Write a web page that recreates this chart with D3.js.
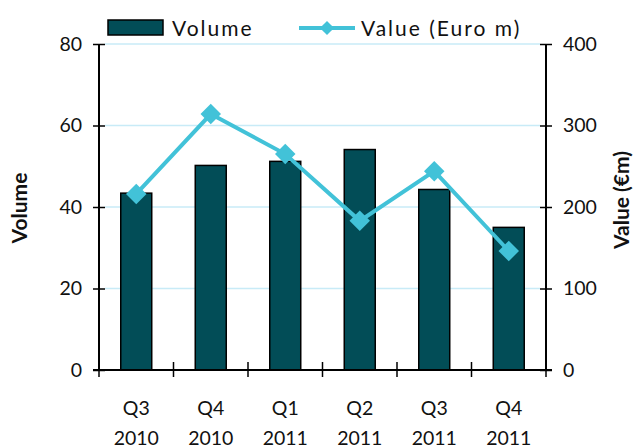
<!DOCTYPE html>
<html>
<head>
<meta charset="utf-8">
<script src="https://cdn.jsdelivr.net/npm/d3@7"></script>
<style>
  body { margin: 0; background: #fff; }
  svg { display: block; font-family: Lato, "Open Sans", sans-serif; }
</style>
</head>
<body>
<div id="chart"></div>
<script>
// data
let quarters = ["Q3", "Q4", "Q1", "Q2", "Q3", "Q4"]
let years = ["2010", "2010", "2011", "2011", "2011", "2011"]
let volume = [43.4, 50.2, 51.2, 54.1, 44.3, 35.0]
let valueEur = [216, 314, 265, 183, 244, 146]
let volumeTicks = [0, 20, 40, 60, 80]
let valueTicks = [0, 100, 200, 300, 400]

let W = 634, H = 448
let plotLeft = 99, plotRight = 546, plotTop = 44, plotBottom = 370
let barColor = "#024d57"
let lineColor = "#42c2d8"
let gridColor = "#c8ebf7"

let data = quarters.map((q, i) => ({key: i, q, year: years[i], vol: volume[i], val: valueEur[i]}))

let svg = d3.select("#chart").append("svg")
  .attr("width", W)
  .attr("height", H)

// SCALES
let xScale = d3.scaleBand()
  .domain(data.map(d => d.key))
  .range([plotLeft, plotRight])
  .paddingInner(0.584)
  .paddingOuter(0.292)
let bandScale = d3.scaleBand()
  .domain(data.map(d => d.key))
  .range([plotLeft, plotRight])
let yScale = d3.scaleLinear().domain([0, 80]).range([plotBottom, plotTop])
let y2Scale = d3.scaleLinear().domain([0, 400]).range([plotBottom, plotTop])

// gridlines
svg.append("g").selectAll("line")
  .data(volumeTicks.filter(t => t > 0))
  .enter().append("line")
  .attr("x1", plotLeft + 6).attr("x2", plotRight - 6)
  .attr("y1", d => yScale(d)).attr("y2", d => yScale(d))
  .attr("stroke", gridColor)
  .attr("stroke-width", 1.5)

// bars
svg.append("g").selectAll("rect")
  .data(data)
  .enter().append("rect")
  .attr("x", d => xScale(d.key))
  .attr("width", xScale.bandwidth())
  .attr("y", d => yScale(d.vol))
  .attr("height", d => yScale(0) - yScale(d.vol))
  .attr("fill", barColor)
  .attr("stroke", "#000")
  .attr("stroke-width", 1.5)

// AXES
let yAxis = d3.axisLeft(yScale).tickValues(volumeTicks).tickSize(6).tickPadding(11)
let gy = svg.append("g").attr("transform", "translate(" + plotLeft + ",0)").call(yAxis)
gy.selectAll(".tick line").attr("x1", 6).attr("stroke-width", 1.5)
gy.select(".domain").attr("d", "M0," + plotTop + "V" + plotBottom).attr("stroke-width", 2)

let y2Axis = d3.axisRight(y2Scale).tickValues(valueTicks).tickSize(6).tickPadding(11)
let gy2 = svg.append("g").attr("transform", "translate(" + plotRight + ",0)").call(y2Axis)
gy2.selectAll(".tick line").attr("x1", -6).attr("stroke-width", 1.5)
gy2.select(".domain").attr("d", "M0," + plotTop + "V" + plotBottom).attr("stroke-width", 2)

svg.selectAll(".tick text")
  .attr("font-family", "Lato, sans-serif")
  .attr("font-size", 19.5)
  .attr("fill", "#111")

// category axis
let xg = svg.append("g")
xg.append("line")
  .attr("x1", plotLeft - 6).attr("x2", plotRight + 6)
  .attr("y1", plotBottom).attr("y2", plotBottom)
  .attr("stroke", "#000").attr("stroke-width", 2)
let edges = data.map(d => bandScale(d.key)).concat([plotRight])
xg.selectAll(".edge")
  .data(edges)
  .enter().append("line")
  .attr("class", "edge")
  .attr("x1", d => d).attr("x2", d => d)
  .attr("y1", plotBottom - 8).attr("y2", plotBottom + 7)
  .attr("stroke", "#000").attr("stroke-width", 1.5)
let labels = xg.selectAll(".xlab")
  .data(data)
  .enter().append("text")
  .attr("class", "xlab")
  .attr("text-anchor", "middle")
  .attr("font-size", 19.5)
  .attr("fill", "#111")
labels.append("tspan")
  .attr("x", d => bandScale(d.key) + bandScale.bandwidth() / 2)
  .attr("y", 415)
  .text(d => d.q)
labels.append("tspan")
  .attr("x", d => bandScale(d.key) + bandScale.bandwidth() / 2)
  .attr("y", 445)
  .text(d => d.year)

// value line
let line = d3.line()
  .x(d => xScale(d.key) + xScale.bandwidth() / 2)
  .y(d => y2Scale(d.val))
svg.append("path")
  .datum(data)
  .attr("d", line)
  .attr("fill", "none")
  .attr("stroke", lineColor)
  .attr("stroke-width", 4)

let diamond = d3.symbol().type(d3.symbolSquare).size(210)
svg.append("g").selectAll("path")
  .data(data)
  .enter().append("path")
  .attr("d", diamond)
  .attr("transform", d => "translate(" + (xScale(d.key) + xScale.bandwidth() / 2) + "," + y2Scale(d.val) + ") rotate(45)")
  .attr("fill", lineColor)

// axis titles
svg.append("text")
  .attr("transform", "translate(27,208) rotate(-90)")
  .attr("text-anchor", "middle")
  .attr("font-size", 21)
  .attr("font-weight", "bold")
  .attr("fill", "#111")
  .text("Volume")
svg.append("text")
  .attr("transform", "translate(629,200) rotate(-90)")
  .attr("text-anchor", "middle")
  .attr("font-size", 21)
  .attr("font-weight", "bold")
  .attr("fill", "#111")
  .text("Value (€m)")

// legend
let legend = svg.append("g")
legend.append("rect")
  .attr("x", 108).attr("y", 20)
  .attr("width", 55).attr("height", 15)
  .attr("fill", barColor)
  .attr("stroke", "#000").attr("stroke-width", 1.5)
legend.append("text")
  .attr("x", 172).attr("y", 35.5)
  .attr("font-size", 21)
  .attr("letter-spacing", 2)
  .attr("fill", "#111")
  .text("Volume")
legend.append("line")
  .attr("x1", 299).attr("x2", 355)
  .attr("y1", 28).attr("y2", 28)
  .attr("stroke", lineColor).attr("stroke-width", 4)
legend.append("path")
  .attr("d", d3.symbol().type(d3.symbolSquare).size(100))
  .attr("transform", "translate(327,28) rotate(45)")
  .attr("fill", lineColor)
legend.append("text")
  .attr("x", 361).attr("y", 35.5)
  .attr("font-size", 21)
  .attr("letter-spacing", 2)
  .attr("fill", "#111")
  .text("Value (Euro m)")
</script>
</body>
</html>
